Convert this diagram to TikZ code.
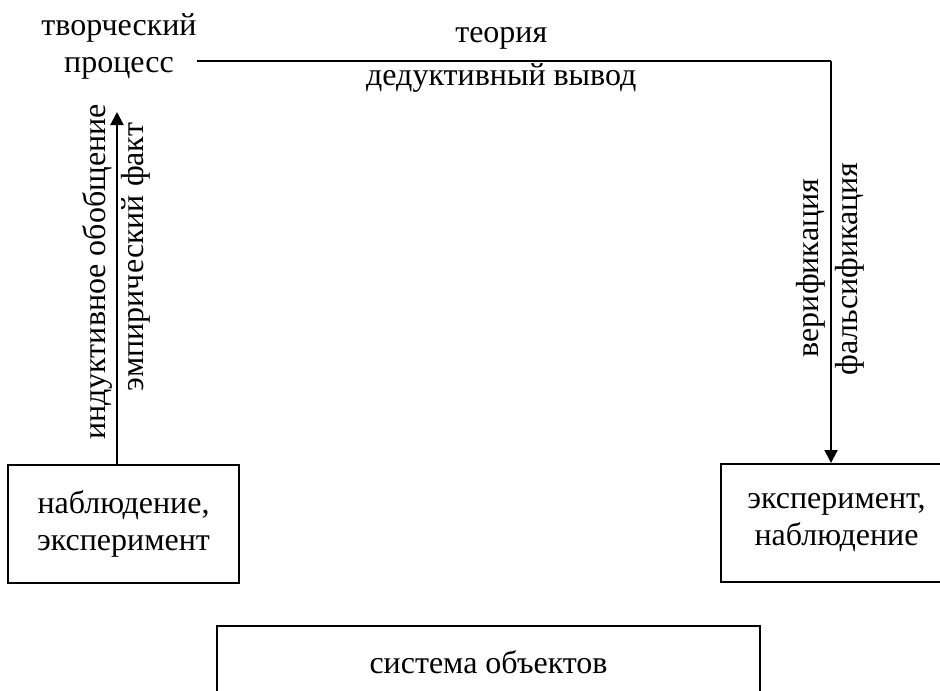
\documentclass[tikz,border=0pt]{standalone}
\usepackage{fontspec}
\setmainfont{Liberation Serif}
\usetikzlibrary{arrows.meta}

\begin{document}
\begin{tikzpicture}[x=0.5pt,y=-0.5pt,
  txt/.style={font=\fontsize{16}{18.5}\selectfont, inner sep=0pt, align=center},
  box/.style={txt, draw, line width=1pt, minimum width=115.5pt, minimum height=59pt},
  arr/.style={line width=1pt, -{Triangle[length=6.5pt,width=6.5pt]}}]
\useasboundingbox (0,0) rectangle (940,690);
\node[txt] (proc) at (119,46) {творческий\\процесс};
\coordinate (corner) at (831,61); \coordinate (up) at (117,112);
\node[box] (obs) at (123.5,524) {наблюдение,\\эксперимент};
\node[box] (expr) at (836.5,523) {эксперимент,\\наблюдение};
\node[box, minimum width=271.5pt, minimum height=36pt] (sys) at (488.5,662) {система объектов};
\draw[line width=1pt] (proc.east |- corner) -- node[pos=.48, txt, above=5.5pt] (theory) {теория}
  node[pos=.48, txt, below=1pt] (deduct) {дедуктивный вывод} (corner);
\draw[arr] (corner) -- (corner |- expr.north);
\draw[arr] (obs.north -| up) -- (up);
\node[txt, rotate=90] (induct) at (97.5,272) {индуктивное обобщение};
\node[txt, rotate=90] (empir) at (135.5,257) {эмпирический факт};
\node[txt, rotate=90] (verif) at (810.5,268) {верификация};
\node[txt, rotate=90] (falsif) at (849.5,269) {фальсификация};
\end{tikzpicture}
\end{document}
